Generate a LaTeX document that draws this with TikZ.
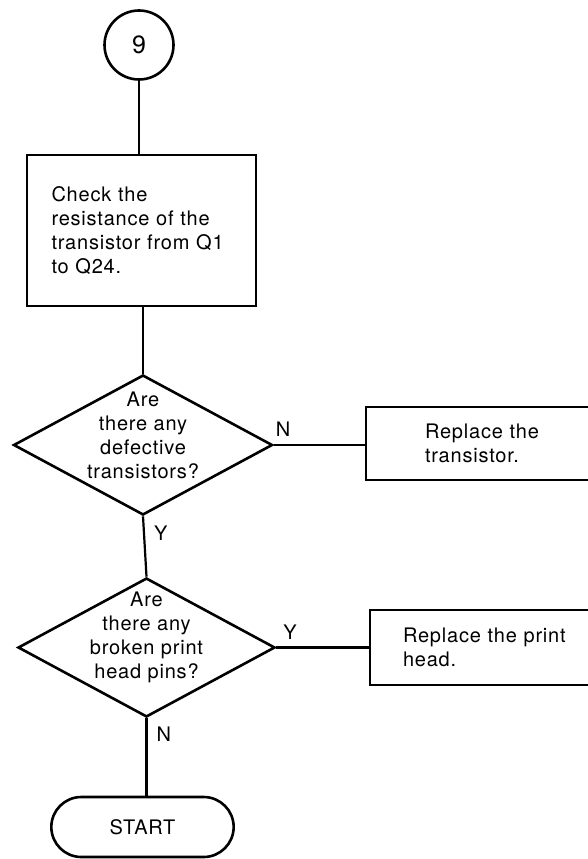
\documentclass[tikz,border=0pt]{standalone}
\usepackage{fontspec}
\setmainfont{TeX Gyre Heros}[LetterSpace=4]
\usetikzlibrary{positioning, shapes.geometric, shapes.misc}

\begin{document}
\begin{tikzpicture}[x=1pt, y=-1pt,
    font=\fontsize{20}{24}\selectfont,
    connect/.style={line width=2.2pt},
    procbox/.style={draw, rectangle, line width=2.8pt, align=left, inner sep=0pt},
    decision/.style={draw, diamond, line width=2.6pt, inner sep=0pt,
                     minimum width=259pt, minimum height=140pt},
    dectext/.style={align=center, inner sep=0pt},
    terminal/.style={draw, rounded rectangle, line width=2.6pt,
                     minimum width=189pt, minimum height=60pt},
    answer/.style={inner sep=0pt}]
  \useasboundingbox (0,0) rectangle (588,859);

  % Entry
  \node[draw, circle, line width=2.6pt, minimum size=69pt, inner sep=0pt,
        font=\fontsize{25}{30}\selectfont] (c9) at (139,45) {9};

  % Check step
  \node[procbox, minimum width=229pt, minimum height=151pt, text width=180pt]
    (check) at (141.5,230.5) {Check the\\resistance of the\\transistor from Q1\\to Q24.};

  % First decision
  \node[decision] (dec1) at (143,445) {};
  \node[dectext] (dec1txt) at ([yshift=10pt]dec1.center) {Are\\there any\\defective\\transistors?};
  \node[procbox, minimum width=288pt, minimum height=73pt, text width=170pt]
    (fix1) at (510,443.5) {Replace the\\transistor.};

  % Second decision
  \node[decision, minimum width=257pt, minimum height=139pt] (dec2) at (146.5,647.5) {};
  \node[dectext] (dec2txt) at ([yshift=10pt]dec2.center) {Are\\there any\\broken print\\head pins?};
  \node[procbox, minimum width=236pt, minimum height=75pt, text width=170pt]
    (fix2) at (488,647.5) {Replace the print\\head.};

  % End
  \node[terminal] (stop) at (142.5,827) {START};

  % Connectors
  \draw[connect] (c9.south) -- (c9.south |- check.north);
  \draw[connect] (check.south -| dec1.north) -- (dec1.north);
  \draw[connect] (dec1.east) -- node[answer, pos=0, anchor=south west, xshift=1pt, yshift=7pt] {N} (dec1.east -| fix1.west);
  \draw[connect] (dec1.south) -- node[answer, pos=0, anchor=north west, xshift=10pt, yshift=-9pt] {Y} (dec2.north);
  \draw[connect] (dec2.east) -- node[answer, pos=0, anchor=south west, xshift=6pt, yshift=7pt] {Y} (dec2.east -| fix2.west);
  \draw[connect] (dec2.south) -- node[answer, pos=0, anchor=north west, xshift=9pt, yshift=-8pt] {N} (dec2.south |- stop.north);
\end{tikzpicture}
\end{document}
